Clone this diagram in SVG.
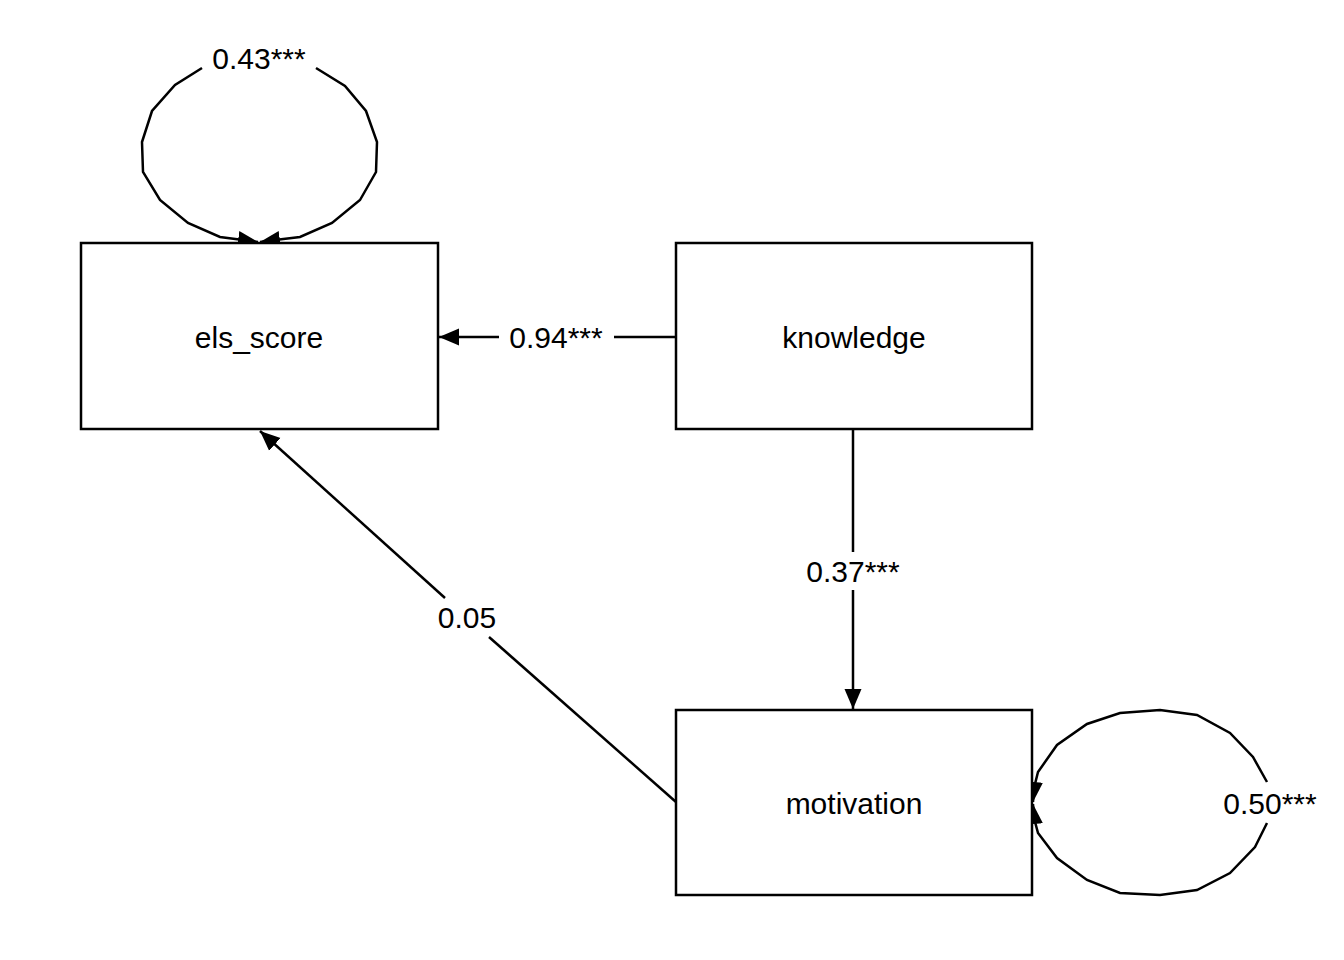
<svg xmlns="http://www.w3.org/2000/svg" width="1344" height="960" viewBox="0 0 1344 960">
<style>
.box{fill:#fff;stroke:#000;stroke-width:2.5}
.edge{fill:none;stroke:#000;stroke-width:2.5}
text{font-family:"Liberation Sans",Arial,sans-serif;font-size:30px;fill:#000;text-anchor:middle;dominant-baseline:central}
</style>
<defs>
<marker id="arr" markerUnits="userSpaceOnUse" markerWidth="22" markerHeight="20" viewBox="0 0 22 20" refX="20" refY="10" orient="auto">
<path d="M0,1.5 L20,10 L0,18.5 Z" fill="#000"/>
</marker>
</defs>
<rect width="1344" height="960" fill="#fff"/>
<g id="connectors">
<g id="e-knowledge-els">
<line class="edge" x1="676" y1="337" x2="614" y2="337"/>
<line class="edge" x1="499" y1="337" x2="439" y2="337" marker-end="url(#arr)"/>
<text x="556" y="337">0.94***</text>
</g>
<g id="e-knowledge-motivation">
<line class="edge" x1="853" y1="429" x2="853" y2="552"/>
<line class="edge" x1="853" y1="590" x2="853" y2="709" marker-end="url(#arr)"/>
<text x="853" y="571">0.37***</text>
</g>
<g id="e-motivation-els">
<line class="edge" x1="676" y1="802" x2="489" y2="637"/>
<line class="edge" x1="445" y1="598" x2="260" y2="431" marker-end="url(#arr)"/>
<text x="467" y="617">0.05</text>
</g>
<g id="e-els-loop">
<polyline class="edge" points="202,68 175,85 152,111 142,142 143,172 160,200 188,223 220,237 243,240 258,242" marker-end="url(#arr)"/>
<polyline class="edge" points="316,68 345,86 366,111 377,142 376,172 360,200 332,223 300,237 275,240 260,242" marker-end="url(#arr)"/>
<text x="259" y="58">0.43***</text>
</g>
<g id="e-motivation-loop">
<polyline class="edge" points="1267,782 1253,757 1230,733 1197,715 1160,710 1120,713 1087,724 1057,745 1038,772 1034,788 1033,802" marker-end="url(#arr)"/>
<polyline class="edge" points="1267,823 1255,847 1230,873 1197,890 1160,895 1120,893 1087,880 1057,858 1038,833 1034,818 1033,804" marker-end="url(#arr)"/>
<text x="1270" y="803">0.50***</text>
</g>
</g>
<g id="node-els_score">
<rect class="box" x="81" y="243" width="357" height="186"/>
<text x="259" y="337">els_score</text>
</g>
<g id="node-knowledge">
<rect class="box" x="676" y="243" width="356" height="186"/>
<text x="854" y="337">knowledge</text>
</g>
<g id="node-motivation">
<rect class="box" x="676" y="710" width="356" height="185"/>
<text x="854" y="803">motivation</text>
</g>
</svg>
